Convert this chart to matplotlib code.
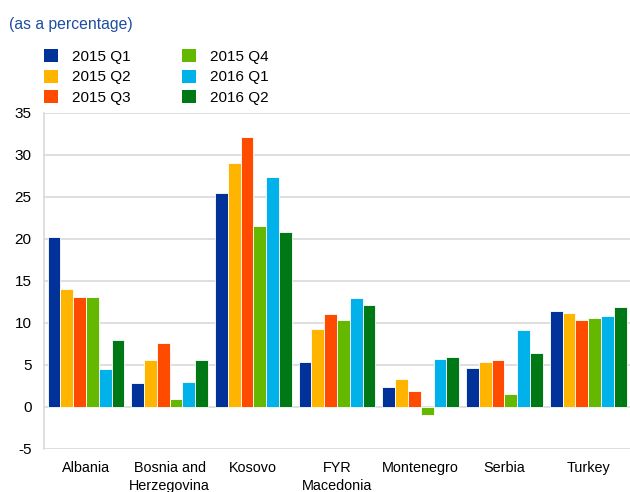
import numpy as np
import matplotlib.pyplot as plt
from matplotlib.patches import Patch

plt.rcParams['font.family'] = ['Liberation Sans', 'DejaVu Sans']
plt.rcParams['axes.unicode_minus'] = False

countries = ['Albania', 'Bosnia and\nHerzegovina', 'Kosovo', 'FYR\nMacedonia',
             'Montenegro', 'Serbia', 'Turkey']
series = ['2015 Q1', '2015 Q2', '2015 Q3', '2015 Q4', '2016 Q1', '2016 Q2']
colors = ['#003299', '#FFB400', '#FF4B00', '#65B800', '#00B1EA', '#007816']

q1_2015 = [20.2, 2.8, 25.5, 5.4, 2.4, 4.6, 11.4]
q2_2015 = [14.1, 5.6, 29.1, 9.3, 3.3, 5.3, 11.2]
q3_2015 = [13.1, 7.6, 32.1, 11.1, 1.9, 5.6, 10.3]
q4_2015 = [13.1, 1.0, 21.5, 10.4, -0.9, 1.5, 10.6]
q1_2016 = [4.5, 3.0, 27.4, 13.0, 5.7, 9.2, 10.8]
q2_2016 = [8.0, 5.6, 20.8, 12.2, 6.0, 6.4, 11.9]
values = [q1_2015, q2_2015, q3_2015, q4_2015, q1_2016, q2_2016]

fig = plt.figure(figsize=(6.3, 4.92), dpi=100)
ax = fig.add_axes([0.070, 0.0874, 0.93, 0.683])

x = np.arange(len(countries))
w = 0.153
for i, (vals, c) in enumerate(zip(values, colors)):
    ax.bar(x + (i - 2.5) * w, vals, w, color=c, edgecolor='white', linewidth=0.6, zorder=3)

ax.set_ylim(-5, 35)
ax.set_xlim(-0.5, 6.5)
ax.set_yticks(range(-5, 36, 5))
ax.set_xticks(x)
ax.set_xticklabels(countries, fontsize=10.4, linespacing=1.3)
ax.tick_params(axis='both', length=0, colors='#000000')
ax.tick_params(axis='y', labelsize=11, pad=9)
ax.tick_params(axis='x', pad=9)
ax.grid(axis='y', color='#d9d9d9', linewidth=1.2, zorder=0)
for s in ['top', 'right', 'bottom']:
    ax.spines[s].set_visible(False)
ax.spines['left'].set_color('#d9d9d9')
ax.spines['left'].set_linewidth(1.2)

fig.text(0.014, 0.951, '(as a percentage)', color='#1f4ea0', fontsize=11.3, va='center')

handles = [Patch(facecolor=c, edgecolor='none') for c in colors]
fig.legend(handles, series, loc='upper left', bbox_to_anchor=(0.0698, 0.900), ncol=2,
           frameon=False, fontsize=11, handlelength=0.92, handleheight=0.92,
           handletextpad=0.9, columnspacing=3.4, labelspacing=0.38, borderpad=0,
           borderaxespad=0)

plt.savefig('out.png', dpi=100)
